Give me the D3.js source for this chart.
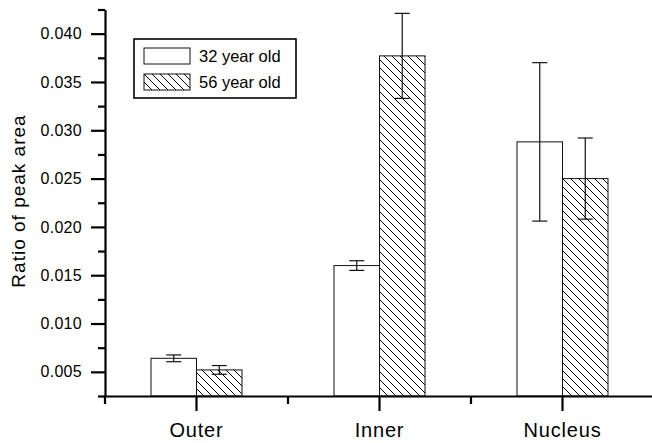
<!DOCTYPE html>
<html>
<head>
<meta charset="utf-8">
<script src="https://cdn.jsdelivr.net/npm/d3@7"></script>
<style>
  body { margin: 0; background: #fff; }
  svg { display: block; font-family: "Liberation Sans", Arial, sans-serif; }
  .axis path, .axis line { stroke: #000; stroke-width: 2.2px; }
  .axis text { fill: #000; }
</style>
</head>
<body>
<svg id="chart" width="652" height="443"></svg>
<script>
var categories = ["Outer", "Inner", "Nucleus"];
var seriesNames = ["32 year old", "56 year old"];
var means32 = [0.0064, 0.0160, 0.0288];
var errors32 = [0.00035, 0.0005, 0.0082];
var means56 = [0.0052, 0.0377, 0.0250];
var errors56 = [0.00045, 0.0044, 0.0042];
var majorTicks = [0.005, 0.010, 0.015, 0.020, 0.025, 0.030, 0.035, 0.040];
var minorTicks = [0.0025, 0.0075, 0.0125, 0.0175, 0.0225, 0.0275, 0.0325, 0.0375, 0.0425];

var svg = d3.select("#chart");

var x = d3.scaleBand()
    .domain(categories)
    .range([105, 654])
    .paddingInner(0)
    .paddingOuter(0);

var xInner = d3.scaleBand()
    .domain(seriesNames)
    .range([-45.5, 45.5]);

var y = d3.scaleLinear()
    .domain([0.0025, 0.0425])
    .range([396, 9.5]);

// hatch pattern for the 56 year old bars
var defs = svg.append("defs");
defs.append("pattern")
    .attr("id", "hatch")
    .attr("patternUnits", "userSpaceOnUse")
    .attr("width", 8)
    .attr("height", 8)
  .append("path")
    .attr("d", "M0,0L8,8M-2,6L2,10M6,-2L10,2")
    .attr("stroke", "#000")
    .attr("stroke-width", 1);

var rows = categories.map(function(c, i) {
  return [
    {cat: c, name: seriesNames[0], value: means32[i], err: errors32[i]},
    {cat: c, name: seriesNames[1], value: means56[i], err: errors56[i]}
  ];
});
var flat = [].concat.apply([], rows);

function cx(d) { return x(d.cat) + x.bandwidth() / 2; }

// bars
svg.append("g").selectAll("rect")
    .data(flat)
    .enter()
    .append("rect")
    .attr("x", function(d) { return cx(d) + xInner(d.name); })
    .attr("y", function(d) { return y(d.value); })
    .attr("width", xInner.bandwidth())
    .attr("height", function(d) { return y(0.0025) - y(d.value); })
    .attr("fill", function(d) { return d.name === seriesNames[0] ? "#fff" : "url(#hatch)"; })
    .attr("stroke", "#111")
    .attr("stroke-width", 1);

// error bars
var eb = svg.append("g")
    .attr("stroke", "#111")
    .attr("stroke-width", 1.2)
    .selectAll("g")
    .data(flat)
    .enter()
    .append("g")
    .attr("transform", function(d) {
      return "translate(" + (cx(d) + xInner(d.name) + xInner.bandwidth() / 2) + ",0)";
    });
eb.append("line")
    .attr("y1", function(d) { return y(d.value + d.err); })
    .attr("y2", function(d) { return y(d.value - d.err); });
eb.append("line")
    .attr("x1", -7.5).attr("x2", 7.5)
    .attr("y1", function(d) { return y(d.value + d.err); })
    .attr("y2", function(d) { return y(d.value + d.err); });
eb.append("line")
    .attr("x1", -7.5).attr("x2", 7.5)
    .attr("y1", function(d) { return y(d.value - d.err); })
    .attr("y2", function(d) { return y(d.value - d.err); });

// y axis
var yAxis = svg.append("g")
    .attr("class", "axis")
    .attr("transform", "translate(105,0)")
    .call(d3.axisLeft(y)
      .tickValues(majorTicks)
      .tickFormat(d3.format(".3f"))
      .tickSizeInner(14)
      .tickSizeOuter(0)
      .tickPadding(9));
yAxis.selectAll("text")
    .style("font-size", "16px")
    .style("letter-spacing", "0.3px");

svg.append("g")
    .attr("class", "axis")
    .attr("transform", "translate(105,0)")
    .call(d3.axisLeft(y).tickValues(minorTicks).tickSize(7).tickFormat(""))
    .call(function(g) { g.select(".domain").remove(); });

// x axis
var xAxis = svg.append("g")
    .attr("class", "axis")
    .attr("transform", "translate(0,396)")
    .call(d3.axisBottom(x)
      .tickSizeInner(15)
      .tickSizeOuter(0)
      .tickPadding(12));
xAxis.selectAll("text")
    .style("font-size", "20px")
    .style("letter-spacing", "0.8px");

var minorX = categories.map(function(c) { return x(c); }).concat([x.range()[1]]);
svg.append("g")
    .attr("class", "axis")
    .attr("transform", "translate(0,396)")
    .selectAll("line")
    .data(minorX)
    .enter()
    .append("line")
    .attr("x1", function(d) { return d; })
    .attr("x2", function(d) { return d; })
    .attr("y1", 0)
    .attr("y2", 8);

// y label
svg.append("text")
    .attr("transform", "translate(25,201) rotate(-90)")
    .attr("text-anchor", "middle")
    .style("font-size", "19px")
    .style("letter-spacing", "1px")
    .text("Ratio of peak area");

// legend
var legend = svg.append("g");
legend.append("rect")
    .attr("x", 134).attr("y", 39)
    .attr("width", 162).attr("height", 59)
    .attr("fill", "#fff")
    .attr("stroke", "#000")
    .attr("stroke-width", 1.6);
var items = legend.selectAll("g.item")
    .data(seriesNames)
    .enter()
    .append("g")
    .attr("class", "item")
    .attr("transform", function(d, i) { return "translate(144," + (48 + i * 26) + ")"; });
items.append("rect")
    .attr("width", 46).attr("height", 16)
    .attr("fill", function(d, i) { return i === 0 ? "#fff" : "url(#hatch)"; })
    .attr("stroke", "#111")
    .attr("stroke-width", 1);
items.append("text")
    .attr("x", 55).attr("y", 14)
    .style("font-size", "16.5px")
    .text(function(d) { return d; });
</script>
</body>
</html>
